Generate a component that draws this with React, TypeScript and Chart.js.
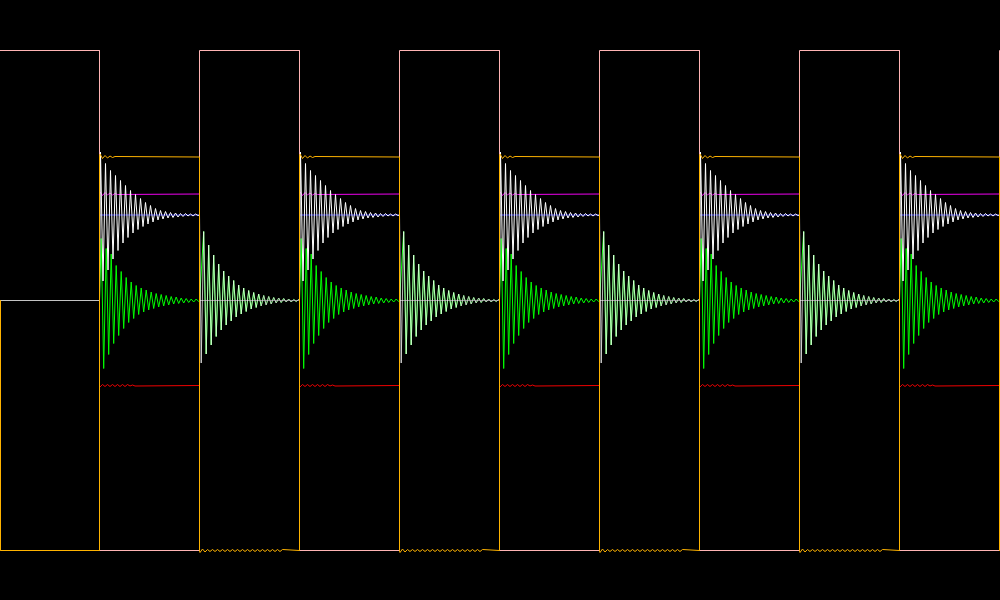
import React, { useEffect, useRef } from "react";
import { Chart, registerables } from "chart.js";

Chart.register(...registerables);

// ---- timing (time units) ----
const onStarts = [100, 300, 500, 700, 900];
const onLength = 100;
const startTime = 0;
const endTime = 1000.5;
const ringHalf = 2.5;

// ---- levels ----
const gateAHigh = 5;
const gateALow = -5;
const gateBHigh = 2.87;
const gateBLow = -5;
const magentaLevel = 2.13;
const blueLevel = 1.71;
const redLevel = -1.7;

// ---- ringing peaks (half-cycle deviations) ----
const whiteOnRing = [1.26, -1.32, 1.03, -1.1, 0.89, -0.88, 0.79, -0.71, 0.69, -0.56, 0.59, -0.45, 0.49, -0.36, 0.41, -0.29, 0.33, -0.23, 0.25, -0.18, 0.19, -0.14, 0.13, -0.1, 0.09, -0.08, 0.07, -0.06, 0.05, -0.05, 0.04, -0.04, 0.03, -0.03, 0.03, -0.02, 0.02, -0.02, 0.02, -0.01];
const whiteOffRing = [-1.25, 1.38, -1.07, 1.11, -0.89, 0.91, -0.72, 0.73, -0.59, 0.59, -0.49, 0.49, -0.41, 0.4, -0.33, 0.31, -0.27, 0.25, -0.22, 0.2, -0.17, 0.16, -0.14, 0.13, -0.11, 0.1, -0.09, 0.08, -0.07, 0.06, -0.05, 0.05, -0.04, 0.04, -0.03, 0.03, -0.03, 0.02, -0.02, 0.02];
const greenOnRing = [1.24, -1.36, 1.04, -1.08, 0.93, -0.86, 0.7, -0.7, 0.58, -0.56, 0.46, -0.44, 0.37, -0.36, 0.3, -0.28, 0.25, -0.23, 0.21, -0.19, 0.17, -0.16, 0.14, -0.13, 0.12, -0.11, 0.1, -0.09, 0.08, -0.07, 0.07, -0.06, 0.05, -0.05, 0.04, -0.04, 0.03, -0.03, 0.03, -0.02];
const greenOffRing = [1.38, -1.07, 1.11, -0.89, 0.91, -0.72, 0.73, -0.59, 0.59, -0.49, 0.49, -0.41, 0.4, -0.33, 0.31, -0.27, 0.25, -0.22, 0.2, -0.17, 0.16, -0.14, 0.13, -0.11, 0.1, -0.09, 0.08, -0.07, 0.06, -0.05, 0.05, -0.04, 0.04, -0.03, 0.03, -0.03, 0.02, -0.02, 0.02];
const orangeRise = [0.06, -0.03, 0.03, -0.02, 0.02, -0.01, 0.01];
const orangeFall = [-0.04, 0.03, -0.03, 0.02, -0.02, 0.02, -0.02, 0.02, -0.02, 0.02, -0.02, 0.02, -0.02, 0.02, -0.02, 0.02, -0.02, 0.02, -0.02, 0.02, -0.02, 0.02, -0.02, 0.02, -0.02, 0.02, -0.02, 0.02, -0.02, 0.02, -0.02, 0.02, -0.02, 0.02];
const magentaRipple = [0.04, -0.03, 0.03, -0.02, 0.02, -0.02, 0.01, -0.01];
const redRipple = [-0.03, 0.02, -0.02, 0.02, -0.02, 0.02, -0.02, 0.02, -0.02, 0.02, -0.02, 0.02, -0.01, 0.01, -0.01];

type P = { x: number; y: number };

function addRing(pts: P[], t0: number, base: number, ring: number[]) {
  ring.forEach((d, i) => pts.push({ x: t0 + i * ringHalf, y: base + d }));
}

function buildPink(): P[] {
  const pts: P[] = [{ x: startTime, y: gateAHigh }];
  for (const s of onStarts) {
    const e = s + onLength;
    pts.push({ x: s, y: gateAHigh }, { x: s, y: gateALow });
    pts.push({ x: e, y: gateALow }, { x: e, y: gateAHigh });
  }
  pts.push({ x: endTime + 5, y: gateAHigh });
  return pts;
}

function buildOrange(): P[] {
  const pts: P[] = [{ x: 1, y: 0 }, { x: 1, y: gateBLow }];
  for (const s of onStarts) {
    const e = s + onLength;
    pts.push({ x: s, y: gateBLow }, { x: s, y: gateBHigh });
    addRing(pts, s + 0.5, gateBHigh, orangeRise);
    pts.push({ x: e, y: gateBHigh }, { x: e, y: gateBLow });
    if (e + 10 < endTime) addRing(pts, e + 0.5, gateBLow, orangeFall);
  }
  pts.push({ x: endTime + 5, y: gateBLow });
  return pts;
}

function buildWhite(): P[] {
  const pts: P[] = [{ x: startTime, y: 0 }];
  for (const s of onStarts) {
    const e = s + onLength;
    pts.push({ x: s, y: 0 });
    addRing(pts, s + 1, blueLevel, whiteOnRing);
    pts.push({ x: e, y: blueLevel });
    if (e + 10 < endTime) {
      addRing(pts, e + 1.7, 0, whiteOffRing);
      pts.push({ x: e + onLength, y: 0 });
    }
  }
  pts.push({ x: endTime + 5, y: 0 });
  return pts;
}

function buildGreen(): P[] {
  const pts: P[] = [{ x: startTime, y: 0 }];
  for (const s of onStarts) {
    const e = s + onLength;
    pts.push({ x: s, y: 0 });
    addRing(pts, s + 1.7, 0, greenOnRing);
    pts.push({ x: e, y: 0 });
    if (e + 10 < endTime) {
      addRing(pts, e + 1.7 + ringHalf, 0, greenOffRing);
      pts.push({ x: e + onLength, y: 0 });
    }
  }
  pts.push({ x: endTime + 5, y: 0 });
  return pts;
}

function buildStep(level: number, ripple: number[] | null): P[] {
  const pts: P[] = [{ x: startTime, y: 0 }];
  for (const s of onStarts) {
    const e = s + onLength;
    pts.push({ x: s, y: 0 }, { x: s, y: level });
    if (ripple) addRing(pts, s + 0.5, level, ripple);
    pts.push({ x: e, y: level }, { x: e, y: 0 });
  }
  pts.push({ x: endTime + 5, y: 0 });
  return pts;
}

const isOn = (x: number) => onStarts.some((s) => x >= s && x < s + onLength);

function whiteSegmentColor(ctx: any) {
  const x = ctx.p0.parsed.x;
  if (isOn(x)) return "#ffffff";
  const swing = Math.max(Math.abs(ctx.p0.parsed.y), Math.abs(ctx.p1.parsed.y));
  return swing < 0.12 ? "#c4c4c4" : "rgba(255,255,255,0.72)";
}

// step traces sitting on the zero line are hidden under the grey baseline
const zeroGrey = (color: string) => (ctx: any) =>
  ctx.p0.parsed.y === 0 && ctx.p1.parsed.y === 0 ? "#8a8a8a" : color;

export default function App() {
  const ref = useRef<HTMLCanvasElement | null>(null);

  useEffect(() => {
    if (!ref.current) return;
    const mk = (label: string, data: P[], color: string, order: number, extra: any = {}) => ({
      label,
      data,
      borderColor: color,
      backgroundColor: color,
      borderWidth: 1,
      pointRadius: 0,
      tension: 0,
      fill: false,
      order,
      ...extra,
    });
    const stepStyle = (color: string) => ({ segment: { borderColor: zeroGrey(color) } });
    const chart = new Chart(ref.current, {
      type: "line",
      data: {
        datasets: [
          mk("gate B", buildOrange(), "#ffb300", 0),
          mk("v out", buildWhite(), "#ffffff", 1, { segment: { borderColor: whiteSegmentColor } }),
          mk("magenta", buildStep(magentaLevel, magentaRipple), "#f000f0", 2, stepStyle("#f000f0")),
          mk("blue", buildStep(blueLevel, null), "#3535ff", 3, stepStyle("#3535ff")),
          mk("green", buildGreen(), "#00ff00", 4),
          mk("red", buildStep(redLevel, redRipple), "#f00000", 5, stepStyle("#f00000")),
          mk("gate A", buildPink(), "#ffb4b4", 6),
        ],
      },
      options: {
        animation: false,
        responsive: true,
        maintainAspectRatio: false,
        devicePixelRatio: 1,
        layout: { padding: 0 },
        events: [],
        scales: {
          x: { type: "linear", min: 0.5, max: 1000.5, display: false },
          y: { type: "linear", min: -5.99, max: 6.01, display: false },
        },
        plugins: {
          legend: { display: false },
          tooltip: { enabled: false },
          title: { display: false },
        },
      },
    });
    return () => chart.destroy();
  }, []);

  return (
    <div
      style={{
        position: "fixed",
        left: 0,
        top: 0,
        width: 1000,
        height: 600,
        background: "#000",
      }}
    >
      <canvas ref={ref} />
    </div>
  );
}
